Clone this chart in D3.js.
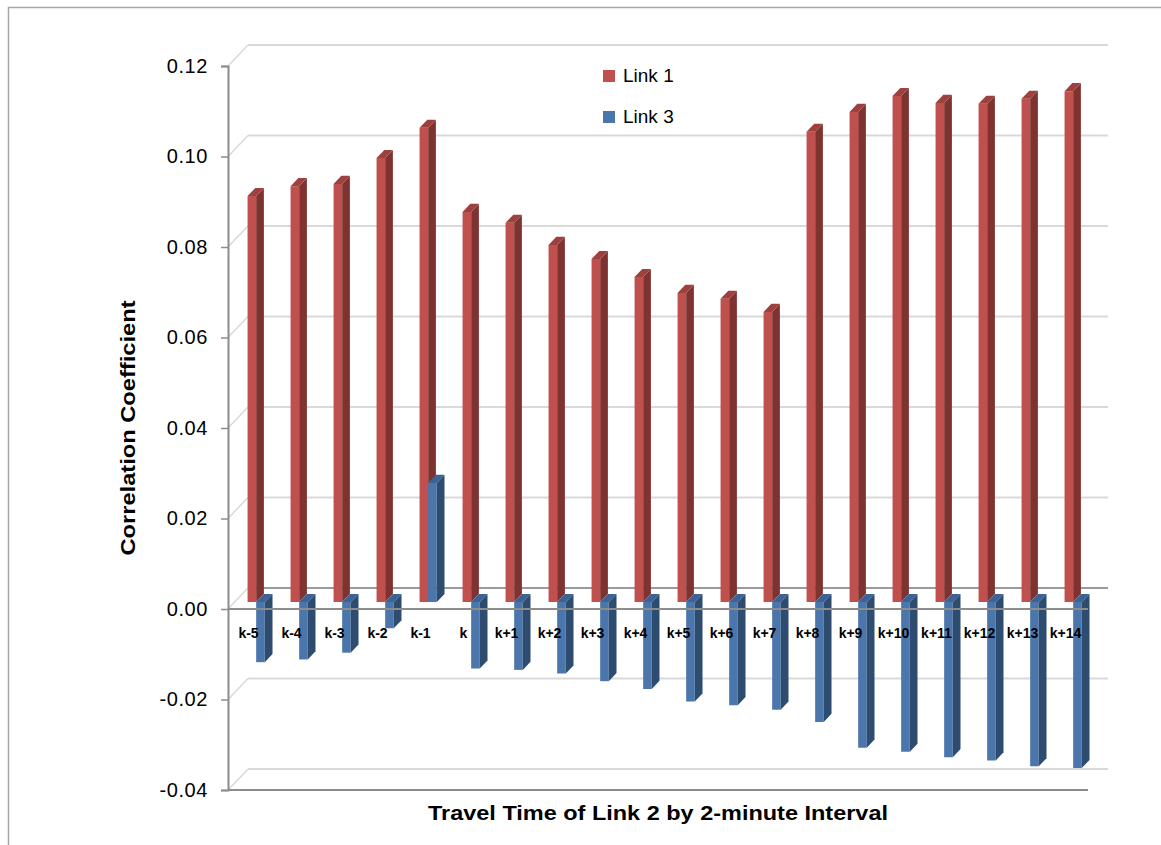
<!DOCTYPE html>
<html>
<head>
<meta charset="utf-8">
<script src="https://cdn.jsdelivr.net/npm/d3@7"></script>
<style>
  html, body { margin: 0; padding: 0; background: #fff; }
  svg { display: block; }
</style>
</head>
<body>
<svg id="chart" width="1161" height="845"></svg>
<script>
// ---- data ----
const categories = ["k-5","k-4","k-3","k-2","k-1","k","k+1","k+2","k+3","k+4","k+5","k+6","k+7","k+8","k+9","k+10","k+11","k+12","k+13","k+14"];
const link1 = [0.0897,0.0919,0.0924,0.0981,0.1048,0.0862,0.0838,0.0789,0.0758,0.0718,0.0683,0.0670,0.0641,0.1039,0.1083,0.1118,0.1103,0.1101,0.1112,0.1129];
const link3 = [-0.0133,-0.0127,-0.0112,-0.0058,0.0263,-0.0147,-0.0150,-0.0158,-0.0175,-0.0192,-0.0220,-0.0228,-0.0238,-0.0265,-0.0322,-0.0331,-0.0343,-0.0350,-0.0363,-0.0367];
const seriesNames = ["Link 1", "Link 3"];
const yTicks = [-0.04,-0.02,0,0.02,0.04,0.06,0.08,0.10,0.12];
const yTitle = "Correlation Coefficient";
const xTitle = "Travel Time of Link 2 by 2-minute Interval";

// ---- layout ----
const svg = d3.select("#chart");
svg.append("rect").attr("x",0).attr("y",0).attr("width",1161).attr("height",845).attr("fill","#fff");
// outer chart frame
svg.append("rect").attr("x",8.5).attr("y",7.5).attr("width",1200).attr("height",900)
  .attr("fill","none").attr("stroke","#a6a6a6").attr("stroke-width",1.5);

const x = d3.scaleBand().domain(categories).range([228, 1088]).paddingInner(0).paddingOuter(0);
const y = d3.scaleLinear().domain([-0.04, 0.12]).range([790, 66]);
const DX = 20, DY = -21;               // full depth offset
const P = (px, py, z) => [px + DX * z, py + DY * z];
const zFront = 0.333, zBack = 0.72;    // bar depth
const barW = 8.6;

const colors = {
  "Link 1": {front: "#C0504D", side: "#7E3331", top: "#9E403E"},
  "Link 3": {front: "#4A76AC", side: "#2E4B70", top: "#3C6395"}
};

const grid = svg.append("g");
// back wall gridlines
yTicks.forEach(v => {
  const a = P(228, y(v), 1), b = P(1088, y(v), 1);
  grid.append("line").attr("x1",a[0]).attr("y1",a[1]).attr("x2",b[0]).attr("y2",b[1])
    .attr("stroke", v === 0 ? "#9a9a9a" : "#d9d9d9").attr("stroke-width", 2);
  const c = P(228, y(v), 0), d = P(228, y(v), 1);
  grid.append("line").attr("x1",c[0]).attr("y1",c[1]).attr("x2",d[0]).attr("y2",d[1])
    .attr("stroke","#d9d9d9").attr("stroke-width", 1.5);
});

// bars
const poly = pts => pts.map(p => p.join(",")).join(" ");
const barsG = svg.append("g");
categories.forEach((cat, i) => {
  const cx = x(cat) + x.bandwidth() / 2;
  [[link1[i], "Link 1", cx - barW], [link3[i], "Link 3", cx]].forEach(([v, name, x0]) => {
    const x1 = x0 + barW;
    const yTopV = Math.max(v, 0), yBotV = Math.min(v, 0);
    const yt = y(yTopV), yb = y(yBotV);
    const c = colors[name];
    const fTL = P(x0, yt, zFront), fTR = P(x1, yt, zFront), fBR = P(x1, yb, zFront), fBL = P(x0, yb, zFront);
    const bTL = P(x0, yt, zBack), bTR = P(x1, yt, zBack), bBR = P(x1, yb, zBack);
    barsG.append("polygon").attr("points", poly([fTL, fTR, fBR, fBL])).attr("fill", c.front);
    barsG.append("polygon").attr("points", poly([fTR, bTR, bBR, fBR])).attr("fill", c.side);
    barsG.append("polygon").attr("points", poly([fTL, bTL, bTR, fTR])).attr("fill", c.top);
  });
});

// front axis lines (x axis at 0, bottom edge)
[0, -0.04].forEach(v => {
  svg.append("line").attr("x1",228).attr("y1",y(v)).attr("x2",1088).attr("y2",y(v))
    .attr("stroke","#8c8c8c").attr("stroke-width",2);
});

// y axis
const fmt = d3.format(".2f");
const yAxis = d3.axisLeft(y).tickValues(yTicks).tickFormat(d => fmt(d).replace("\u2212", "-")).tickSize(7).tickPadding(13);
const yg = svg.append("g").attr("transform","translate(228,0)").call(yAxis);
yg.select(".domain").attr("stroke","#8c8c8c").attr("stroke-width",2);
yg.selectAll(".tick line").attr("stroke","#8c8c8c").attr("stroke-width",1.5);
yg.selectAll(".tick text").attr("fill","#000").style("font-family","Liberation Sans, Arial, sans-serif")
  .style("font-size","20px").style("letter-spacing","0.6px");

// category labels
svg.append("g").selectAll("text").data(categories).join("text")
  .attr("x", d => x(d) + x.bandwidth() / 2 - 1)
  .attr("y", 638)
  .attr("text-anchor","middle")
  .style("font-family","Liberation Sans, Arial, sans-serif")
  .style("font-size","14px").style("font-weight","bold")
  .text(d => d);

// axis titles
svg.append("text").attr("transform","translate(135,428) rotate(-90)")
  .attr("text-anchor","middle")
  .attr("textLength", 255).attr("lengthAdjust","spacingAndGlyphs")
  .style("font-family","Liberation Sans, Arial, sans-serif").style("font-size","21px").style("font-weight","bold")
  .text(yTitle);
svg.append("text").attr("x",658).attr("y",820)
  .attr("text-anchor","middle")
  .attr("textLength", 460).attr("lengthAdjust","spacingAndGlyphs")
  .style("font-family","Liberation Sans, Arial, sans-serif").style("font-size","21px").style("font-weight","bold")
  .text(xTitle);

// legend
const leg = svg.append("g");
seriesNames.forEach((name, i) => {
  const ly = 70 + i * 41;
  leg.append("rect").attr("x",603).attr("y",ly).attr("width",12).attr("height",12).attr("fill", colors[name].front);
  leg.append("text").attr("x",623).attr("y",ly + 12)
    .style("font-family","Liberation Sans, Arial, sans-serif").style("font-size","19px")
    .text(name);
});
</script>
</body>
</html>
